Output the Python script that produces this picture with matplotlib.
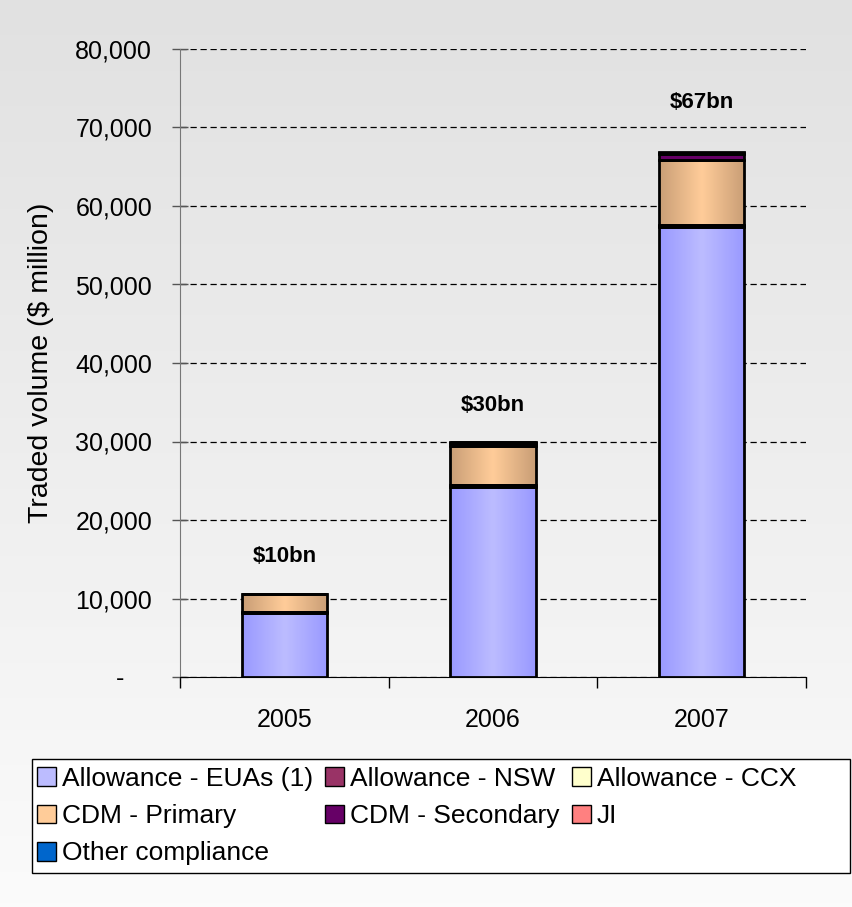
import numpy as np
import matplotlib.pyplot as plt
from matplotlib.patches import Patch, Rectangle
from matplotlib.colors import LinearSegmentedColormap
from matplotlib.ticker import FuncFormatter

plt.rcParams['font.family'] = ['Liberation Sans', 'DejaVu Sans']

years = ['2005', '2006', '2007']
eua = [8200, 24200, 57300]
nsw = [60, 200, 200]
ccx = [0, 40, 100]
cdm_primary = [2300, 5000, 8200]
cdm_secondary = [0, 400, 800]
ji = [70, 100, 200]
other = [0, 60, 100]
total_labels = ['$10bn', '$30bn', '$67bn']
label_heights = [15300, 34600, 73200]

names = ['Allowance - EUAs (1)', 'Allowance - NSW', 'Allowance - CCX',
         'CDM - Primary', 'CDM - Secondary', 'JI', 'Other compliance']
series = [eua, nsw, ccx, cdm_primary, cdm_secondary, ji, other]
# (edge shade, centre shade) for the cylinder-ish gradient fill
colors = [('#9999FF', '#BCBCFF'), ('#993366', '#993366'), ('#FFFFCC', '#FFFFCC'),
          ('#C99E76', '#FFCC99'), ('#660066', '#660066'), ('#FF8080', '#FF8080'),
          ('#0066CC', '#0066CC')]

fig = plt.figure(figsize=(8.53, 9.07), dpi=100)

# background gradient
bg = fig.add_axes([0, 0, 1, 1], zorder=-10)
grad = np.linspace(0, 1, 256).reshape(-1, 1)
bg_cmap = LinearSegmentedColormap.from_list('bg', ['#e1e1e1', '#fbfbfb'])
bg.imshow(grad, aspect='auto', cmap=bg_cmap, extent=[0, 1, 0, 1])
bg.axis('off')

ax = fig.add_axes([180/853, 230/907, 626/853, 628/907])
ax.patch.set_alpha(0)

x = np.arange(len(years)) + 0.5
width = 0.41
bottom = np.zeros(len(years))
hgrad = np.abs(np.linspace(-1, 1, 100)).reshape(1, -1)
for vals, (edge_c, mid_c) in zip(series, colors):
    vals = np.array(vals, dtype=float)
    bars = ax.bar(x, vals, width=width, bottom=bottom, facecolor='none',
                  edgecolor='black', linewidth=2, zorder=4)
    cm = LinearSegmentedColormap.from_list('g', [mid_c, edge_c])
    for b in bars:
        if b.get_height() <= 0:
            continue
        im = ax.imshow(hgrad, cmap=cm, aspect='auto', zorder=3,
                       extent=[b.get_x(), b.get_x() + b.get_width(),
                               b.get_y(), b.get_y() + b.get_height()])
        im.set_clip_path(b)
    bottom += vals

for xi, lab, h in zip(x, total_labels, label_heights):
    ax.text(xi, h, lab, ha='center', va='center', fontsize=16, fontweight='bold')

ax.set_xlim(0, 3)
ax.set_ylim(0, 80000)
ax.set_yticks(np.arange(0, 80001, 10000))
ax.yaxis.set_major_formatter(FuncFormatter(lambda v, p: '-    ' if v == 0 else f'{int(v):,}'))
ax.yaxis.grid(True, linestyle=(0, (5, 3)), color='black', linewidth=0.9)
ax.set_axisbelow(True)

ax.set_xticks([0, 1, 2, 3])
ax.set_xticklabels([])
ax.set_xticks(x, minor=True)
ax.set_xticklabels(years, minor=True)
ax.tick_params(axis='x', which='major', direction='out', length=8, width=1)
ax.tick_params(axis='x', which='minor', length=0, pad=22, labelsize=18)
ax.tick_params(axis='y', direction='inout', length=12, width=1, color='#555555',
               pad=14, labelsize=18)

for s in ['top', 'right']:
    ax.spines[s].set_visible(False)
ax.spines['left'].set_color('#777777')
ax.spines['bottom'].set_color('black')

ax.set_ylabel('Traded volume ($ million)', fontsize=20.5)
ax.yaxis.set_label_coords(-0.201, 0.5)

# legend: frame drawn separately so it spans the full width like the original
fig.patches.append(Rectangle((32/853, 34/907), 818/853, 114/907, transform=fig.transFigure,
                             facecolor='white', edgecolor='black', linewidth=1, zorder=1))
handles = [Patch(facecolor=c[0] if i not in (0, 3) else c[1], edgecolor='black', linewidth=1)
           for i, c in enumerate(colors)]
order = [0, 3, 6, 1, 4, 2, 5]
leg = fig.legend([handles[i] for i in order], [names[i] for i in order], ncol=3,
                 loc='upper left', bbox_to_anchor=(37/853, 1 - 767/907),
                 frameon=False, fontsize=19, handlelength=0.72, handleheight=0.72,
                 handletextpad=0.23, labelspacing=0.5, borderpad=0,
                 borderaxespad=0, columnspacing=0.45)

fig.savefig('out.png', dpi=100)
